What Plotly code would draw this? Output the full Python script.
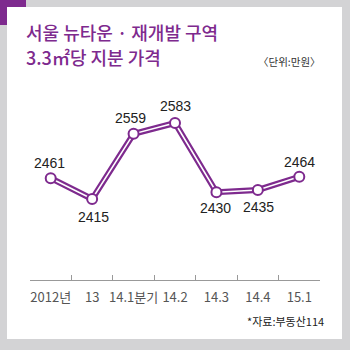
import plotly.graph_objects as go

categories = ["2012년", "13", "14.1분기", "14.2", "14.3", "14.4", "15.1"]
values = [2461, 2415, 2559, 2583, 2430, 2435, 2464]
label_shift = [15, -18, 16, 17, -16, -17, 15]
label_xshift = [-1, 1, -3, 0, -1, 1, 0]

PURPLE = "#7e2a8e"
GRAY = "#d3d3d5"
xs = list(range(len(categories)))

fig = go.Figure()
fig.add_trace(go.Scatter(x=xs, y=values, mode="lines",
                         line=dict(color=PURPLE, width=6), hoverinfo="skip"))
fig.add_trace(go.Scatter(x=xs, y=values, mode="lines",
                         line=dict(color="white", width=1.6), hoverinfo="skip"))
fig.add_trace(go.Scatter(x=xs, y=values, mode="markers",
                         marker=dict(size=10, color="white", line=dict(color=PURPLE, width=2)),
                         cliponaxis=False, hoverinfo="skip"))

for x, v, s, xsft in zip(xs, values, label_shift, label_xshift):
    fig.add_annotation(x=x, y=v, text=str(v), showarrow=False, yshift=s, xshift=xsft,
                       xanchor="center", yanchor="middle",
                       font=dict(family="Liberation Sans Narrow, Liberation Sans, Arial", size=14, color="#222222"))

# frame and panel
fig.add_shape(type="rect", xref="paper", yref="paper", x0=(7-30)/290, x1=(342-30)/290,
              y0=(280-339)/200, y1=(280-7)/200, fillcolor="white", line_width=0, layer="below")
fig.add_shape(type="rect", xref="paper", yref="paper", x0=(0-30)/290, x1=(26-30)/290,
              y0=(280-7)/200, y1=(280-0)/200, fillcolor=PURPLE, line_width=0, layer="below")
fig.add_shape(type="rect", xref="paper", yref="paper", x0=(0-30)/290, x1=(7-30)/290,
              y0=(280-25)/200, y1=(280-0)/200, fillcolor=PURPLE, line_width=0, layer="below")

fig.add_annotation(x=(24-30)/290, y=(280-32)/200, xref="paper", yref="paper", xanchor="left", yanchor="middle",
                   text="서울 뉴타운 · 재개발 구역", showarrow=False,
                   font=dict(family="Noto Sans CJK KR", size=18, color=PURPLE, weight=500))
fig.add_annotation(x=(24-30)/290, y=(280-57)/200, xref="paper", yref="paper", xanchor="left", yanchor="middle",
                   text="3.3㎡당 지분 가격", showarrow=False,
                   font=dict(family="Noto Sans CJK KR", size=18, color=PURPLE, weight=500))
fig.add_annotation(x=(323-30)/290, y=(280-61)/200, xref="paper", yref="paper", xanchor="right", yanchor="middle",
                   text="〈단위:만원〉", showarrow=False,
                   font=dict(family="Noto Sans CJK KR", size=10.5, color="#333333"))
fig.add_annotation(x=(326-30)/290, y=(280-321)/200, xref="paper", yref="paper", xanchor="right", yanchor="middle",
                   text="*자료:부동산114", showarrow=False,
                   font=dict(family="Noto Sans CJK KR", size=11, color="#222222"))

fig.update_layout(
    width=350, height=350,
    margin=dict(l=30, r=30, t=80, b=70),
    paper_bgcolor=GRAY, plot_bgcolor="white",
    showlegend=False,
    xaxis=dict(tickmode="array", tickvals=xs, ticktext=categories, range=[-0.5, 6.5],
               showgrid=False, zeroline=False, showline=True, linecolor="#999999", linewidth=1,
               ticks="", ticklabelstandoff=5,
               tickfont=dict(family="Liberation Sans Narrow, Noto Sans CJK KR", size=13, color="#555555"),
               fixedrange=True),
    xaxis2=dict(overlaying="x", range=[-0.5, 6.5], tickmode="array", tickvals=[i - 0.5 for i in range(8)],
                ticks="inside", ticklen=5, tickcolor="#999999", showticklabels=False, showgrid=False,
                zeroline=False, side="bottom"),
    yaxis=dict(range=[2236, 2678], visible=False, fixedrange=True),
)
fig.add_trace(go.Scatter(x=[0], y=[None], xaxis="x2", mode="markers", hoverinfo="skip"))
fig.write_html("out.html")
